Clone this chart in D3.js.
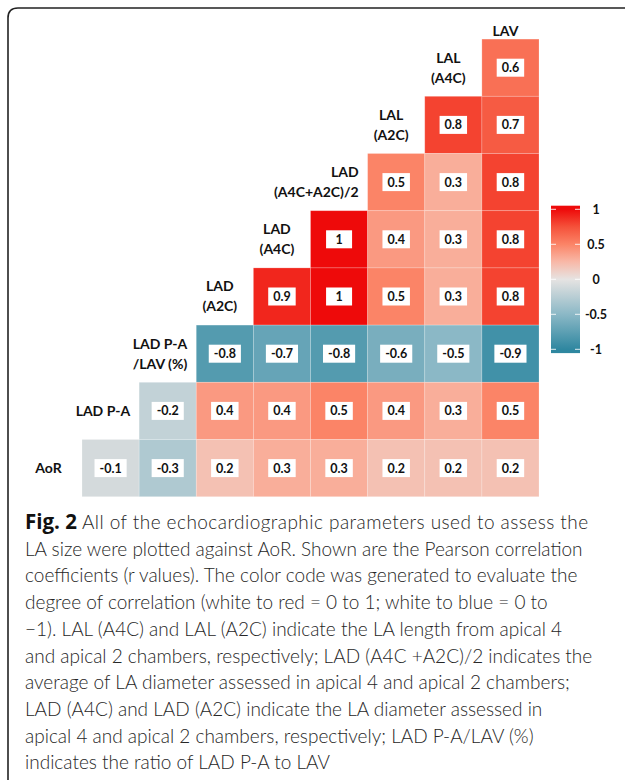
<!DOCTYPE html>
<html>
<head>
<meta charset="utf-8">
<script src="https://cdn.jsdelivr.net/npm/d3@7"></script>
<style>
  html, body { margin: 0; padding: 0; background: #fff; }
  svg { display: block; }
</style>
</head>
<body>
<svg id="chart" width="627" height="780"></svg>
<script>
// variables, bottom row first (AoR) to top column (LAV)
const variables = ["AoR", "LAD P-A", "LAD P-A\n/LAV (%)", "LAD\n(A2C)", "LAD\n(A4C)",
                   "LAD\n(A4C+A2C)/2", "LAL\n(A2C)", "LAL\n(A4C)", "LAV"];

// r values for each row, top row first; each row runs to the LAV column
const rowLALA4C  = [0.6];
const rowLALA2C  = [0.8, 0.7];
const rowLADAvg  = [0.5, 0.3, 0.8];
const rowLADA4C  = [1, 0.4, 0.3, 0.8];
const rowLADA2C  = [0.9, 1, 0.5, 0.3, 0.8];
const rowPALAV   = [-0.8, -0.7, -0.8, -0.6, -0.5, -0.9];
const rowLADPA   = [-0.2, 0.4, 0.4, 0.5, 0.4, 0.3, 0.5];
const rowAoR     = [-0.1, -0.3, 0.2, 0.3, 0.3, 0.2, 0.2, 0.2];
const rows = [rowLALA4C, rowLALA2C, rowLADAvg, rowLADA4C, rowLADA2C, rowPALAV, rowLADPA, rowAoR];

const legendTicks = [1, 0.5, 0, -0.5, -1];

const captionBold = "Fig. 2";
const captionLines = [
  " All of the echocardiographic parameters used to assess the",
  "LA size were plotted against AoR. Shown are the Pearson correlation",
  "coefficients (r values). The color code was generated to evaluate the",
  "degree of correlation (white to red = 0 to 1; white to blue = 0 to",
  "\u22121). LAL (A4C) and LAL (A2C) indicate the LA length from apical 4",
  "and apical 2 chambers, respectively; LAD (A4C +A2C)/2 indicates the",
  "average of LA diameter assessed in apical 4 and apical 2 chambers;",
  "LAD (A4C) and LAD (A2C) indicate the LA diameter assessed in",
  "apical 4 and apical 2 chambers, respectively; LAD P-A/LAV (%)",
  "indicates the ratio of LAD P-A to LAV"
];

const svg = d3.select("#chart");
const n = rows.length;

// frame
svg.append("path")
  .attr("d", "M8,780 L8,18 Q8,8 18,8 L625,8")
  .attr("fill", "none")
  .attr("stroke", "#222")
  .attr("stroke-width", 1.6);

// band scales, band -1 holds the AoR and LAV labels
const x = d3.scaleBand().domain(d3.range(-1, n)).range([24.9, 539]);
const y = d3.scaleBand().domain(d3.range(-1, n)).range([-18.1, 496.7]);

const color = d3.scaleLinear()
  .domain([-1, -0.5, 0, 0.25, 0.5, 0.75, 1])
  .range(["#2f87a0", "#8bb8c6", "#e6e3e2", "#f8b8a7", "#fb8467", "#f5513a", "#ee0a0a"]);

// flatten to cells
let cells = [];
rows.forEach(function(vals, r){
  let start = n - vals.length;
  vals.forEach(function(v, i){ cells.push({row: r, col: start + i, value: v}); });
});

const grid = svg.append("g").attr("class", "cells");
grid.selectAll("rect")
  .data(cells)
  .enter()
  .append("rect")
  .attr("x", (d)=>x(d.col))
  .attr("y", (d)=>y(d.row))
  .attr("width", x.bandwidth())
  .attr("height", y.bandwidth())
  .attr("fill", (d)=>color(d.value))
  .attr("stroke", "rgba(255,255,255,0.25)")
  .attr("stroke-width", 0.8);

// value boxes
const vals = svg.append("g").attr("class", "values");
let cg = vals.selectAll("g")
  .data(cells)
  .enter()
  .append("g")
  .attr("transform", (d)=>`translate(${x(d.col) + x.bandwidth()/2},${y(d.row) + y.bandwidth()/2})`);
let box = cg.append("rect").attr("fill", "#fff");
let txt = cg.append("text")
  .text((d)=>String(d.value))
  .attr("text-anchor", "middle")
  .attr("dy", "0.36em")
  .attr("font-family", "Lato, 'Open Sans', sans-serif")
  .attr("font-weight", "bold")
  .attr("font-size", 12.5)
  .attr("fill", "#111");
txt.each(function(d){ d.tw = this.getComputedTextLength(); });
box.attr("width", (d)=>Math.max(26, d.tw + 10))
  .attr("height", 18)
  .attr("x", (d)=>-Math.max(26, d.tw + 10)/2)
  .attr("y", -9);

// variable labels on the diagonal
const labels = svg.append("g").attr("class", "labels");
variables.forEach(function(name, k){
  let col = k - 1;
  let row = n - 1 - k;
  let lines = name.split("\n");
  let cx = x(col) + x.bandwidth()/2 - 5;
  let cy = row < 0 ? y(row) + y.bandwidth() - 8 : y(row) + y.bandwidth()/2;
  let t = labels.append("text")
    .attr("font-family", "Lato, 'Open Sans', sans-serif")
    .attr("font-weight", "bold")
    .attr("font-size", 14)
    .attr("fill", "#111")
    .attr("text-anchor", "middle");
  lines.forEach(function(line, i){
    t.append("tspan")
      .attr("x", cx)
      .attr("y", cy + (i - (lines.length - 1)/2) * 20)
      .attr("dy", "0.35em")
      .text(line);
  });
  // long labels are pushed left so they stay clear of the next cell
  let w = t.node().getBBox().width;
  if (w > x.bandwidth() - 10) {
    t.attr("text-anchor", "end").selectAll("tspan").attr("x", x(col) + x.bandwidth() - 9);
  }
});

// colour bar
const cb = d3.scaleLinear().domain([-1, 1]).range([349.3, 209.3]);
const barX = 551, barW = 29;
const grad = svg.append("defs").append("linearGradient")
  .attr("id", "cbar")
  .attr("gradientUnits", "userSpaceOnUse")
  .attr("x1", 0).attr("x2", 0)
  .attr("y1", cb(1)).attr("y2", cb(-1));
color.domain().slice().reverse().forEach(function(v){
  grad.append("stop")
    .attr("offset", (1 - v) / 2)
    .attr("stop-color", color(v));
});
svg.append("rect")
  .attr("x", barX)
  .attr("y", cb(1) - 3.6)
  .attr("width", barW)
  .attr("height", cb(-1) - cb(1) + 7.4)
  .attr("fill", "url(#cbar)");

const lg = svg.append("g").attr("class", "legend");
lg.selectAll("line.l")
  .data(legendTicks)
  .enter()
  .append("line")
  .attr("x1", barX).attr("x2", barX + 5)
  .attr("y1", (d)=>cb(d)).attr("y2", (d)=>cb(d))
  .attr("stroke", "#fff").attr("stroke-opacity", 0.85);
lg.selectAll("line.r")
  .data(legendTicks)
  .enter()
  .append("line")
  .attr("x1", barX + barW - 5).attr("x2", barX + barW)
  .attr("y1", (d)=>cb(d)).attr("y2", (d)=>cb(d))
  .attr("stroke", "#fff").attr("stroke-opacity", 0.85);
lg.selectAll("text")
  .data(legendTicks)
  .enter()
  .append("text")
  .text((d)=>d)
  .attr("x", 596)
  .attr("y", (d)=>cb(d))
  .attr("dy", "0.35em")
  .attr("text-anchor", "middle")
  .attr("font-family", "Lato, 'Open Sans', sans-serif")
  .attr("font-weight", "bold")
  .attr("font-size", 12.5)
  .attr("fill", "#111");

// caption
const cap = svg.append("g").attr("class", "caption")
  .attr("font-family", "Lato, 'Open Sans', sans-serif")
  .attr("font-size", 19)
  .attr("fill", "#262626");
captionLines.forEach(function(line, i){
  let t = cap.append("text")
    .attr("x", 25)
    .attr("y", 529 + i * 26.7)
    .attr("font-weight", 300);
  if (i === 0) {
    t.append("tspan")
      .attr("font-family", "'Open Sans', Lato, sans-serif")
      .attr("font-weight", "bold")
      .attr("font-size", 20.5)
      .attr("fill", "#111")
      .text(captionBold);
    // the first line runs a little wider than the rest in the original
    t.append("tspan").attr("letter-spacing", 0.45).text(line);
  } else {
    t.append("tspan").text(line);
  }
});
</script>
</body>
</html>
